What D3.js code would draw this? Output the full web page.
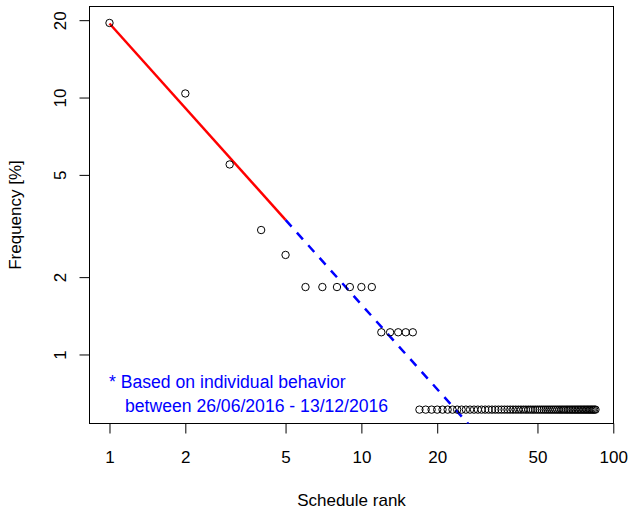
<!DOCTYPE html>
<html>
<head>
<meta charset="utf-8">
<script src="https://cdn.jsdelivr.net/npm/d3@7"></script>
<style>
  html, body { margin: 0; padding: 0; background: #fff; }
  svg { display: block; }
  text { font-family: "Liberation Sans", Arial, Helvetica, sans-serif; }
</style>
</head>
<body>
<svg id="chart" width="630" height="508"></svg>
<script>
// ---- data ----
// frequency [%] of each schedule, by rank (rank = position + 1)
const freqValues = [
  19.51, 10.37, 5.49, 3.05, 2.44,
  1.83, 1.83, 1.83, 1.83, 1.83, 1.83,
  1.22, 1.22, 1.22, 1.22, 1.22,
  0.61, 0.61, 0.61, 0.61, 0.61, 0.61, 0.61, 0.61, 0.61, 0.61,
  0.61, 0.61, 0.61, 0.61, 0.61, 0.61, 0.61, 0.61, 0.61, 0.61,
  0.61, 0.61, 0.61, 0.61, 0.61, 0.61, 0.61, 0.61, 0.61, 0.61,
  0.61, 0.61, 0.61, 0.61, 0.61, 0.61, 0.61, 0.61, 0.61, 0.61,
  0.61, 0.61, 0.61, 0.61, 0.61, 0.61, 0.61, 0.61, 0.61, 0.61,
  0.61, 0.61, 0.61, 0.61, 0.61, 0.61, 0.61, 0.61, 0.61, 0.61,
  0.61, 0.61, 0.61, 0.61, 0.61, 0.61, 0.61, 0.61, 0.61
];
const ranks = freqValues.map((d, i) => i + 1);
const xTicks = [1, 2, 5, 10, 20, 50, 100];
const yTicks = [1, 2, 5, 10, 20];
// power-law fit  y = fitA * x^fitB
const fitA = 19.42;
const fitB = -1.094;
const fitRedRange = [1, 5];
const fitBlueRange = [5, 40];
const xDomain = [0.833, 100.2];
const yDomain = [0.5387, 22.61];
const noteLines = ["* Based on individual behavior", "between 26/06/2016 - 13/12/2016"];
const xTitle = "Schedule rank";
const yTitle = "Frequency [%]";

// ---- layout ----
const L = 89.5, R = 613.5, T = 6.5, B = 423.5;
const svg = d3.select("#chart");
const x = d3.scaleLog().domain(xDomain).range([L, R]);
const y = d3.scaleLog().domain(yDomain).range([B, T]);

svg.append("defs").append("clipPath").attr("id", "plotclip")
  .append("rect").attr("x", L).attr("y", T).attr("width", R - L).attr("height", B - T);

// axes
const xAxis = d3.axisBottom(x).tickValues(xTicks).tickFormat(d3.format("d")).tickSize(10).tickPadding(6);
const gx = svg.append("g").attr("transform", `translate(0,${B})`).call(xAxis);
gx.select(".domain").attr("d", `M${x(1)},0H${x(100)}`).attr("stroke", "#000");
gx.selectAll(".tick line").attr("stroke", "#000");
gx.selectAll(".tick text").attr("font-size", 17).attr("fill", "#000")
  .attr("y", 0).attr("dy", 0).attr("transform", "translate(0,39)")
  .attr("font-family", '"Liberation Sans", Arial, sans-serif');

const yAxis = d3.axisLeft(y).tickValues(yTicks).tickFormat(d3.format("d")).tickSize(10);
const gy = svg.append("g").attr("transform", `translate(${L},0)`).call(yAxis);
gy.select(".domain").attr("d", `M0,${y(1)}V${y(20)}`).attr("stroke", "#000");
gy.selectAll(".tick line").attr("stroke", "#000");
gy.selectAll(".tick text").attr("font-size", 17).attr("fill", "#000")
  .attr("x", 0).attr("dy", 0)
  .attr("text-anchor", "middle")
  .attr("transform", "translate(-24,0) rotate(-90)")
  .attr("font-family", '"Liberation Sans", Arial, sans-serif');

// box
svg.append("rect").attr("x", L).attr("y", T).attr("width", R - L).attr("height", B - T)
  .attr("fill", "none").attr("stroke", "#000").attr("stroke-width", 1);

// fit lines
const plot = svg.append("g").attr("clip-path", "url(#plotclip)");
const fitLine = d3.line().x(d => x(d)).y(d => y(fitA * Math.pow(d, fitB)));
plot.append("path").attr("d", fitLine(fitBlueRange))
  .attr("fill", "none").attr("stroke", "#0000ff").attr("stroke-width", 2.5)
  .attr("stroke-dasharray", "9,8");
plot.append("path").attr("d", fitLine(fitRedRange))
  .attr("fill", "none").attr("stroke", "#ff0000").attr("stroke-width", 2.5);

// points
svg.append("g").selectAll("circle").data(freqValues).join("circle")
  .attr("cx", (d, i) => x(ranks[i]))
  .attr("cy", d => y(d))
  .attr("r", 3.7)
  .attr("fill", "none").attr("stroke", "#000").attr("stroke-width", 1);

// note text
svg.append("text").attr("x", 109).attr("y", 388).attr("font-size", 17.6)
  .attr("fill", "#0000ff").text(noteLines[0]);
svg.append("text").attr("x", 125).attr("y", 412).attr("font-size", 17.6)
  .attr("fill", "#0000ff").text(noteLines[1]);

// titles
svg.append("text").attr("x", (L + R) / 2).attr("y", 505.5).attr("text-anchor", "middle")
  .attr("font-size", 17).attr("fill", "#000").text(xTitle);
svg.append("text").attr("transform", `translate(20.5,${(T + B) / 2}) rotate(-90)`)
  .attr("text-anchor", "middle").attr("font-size", 17).attr("fill", "#000").text(yTitle);
</script>
</body>
</html>
